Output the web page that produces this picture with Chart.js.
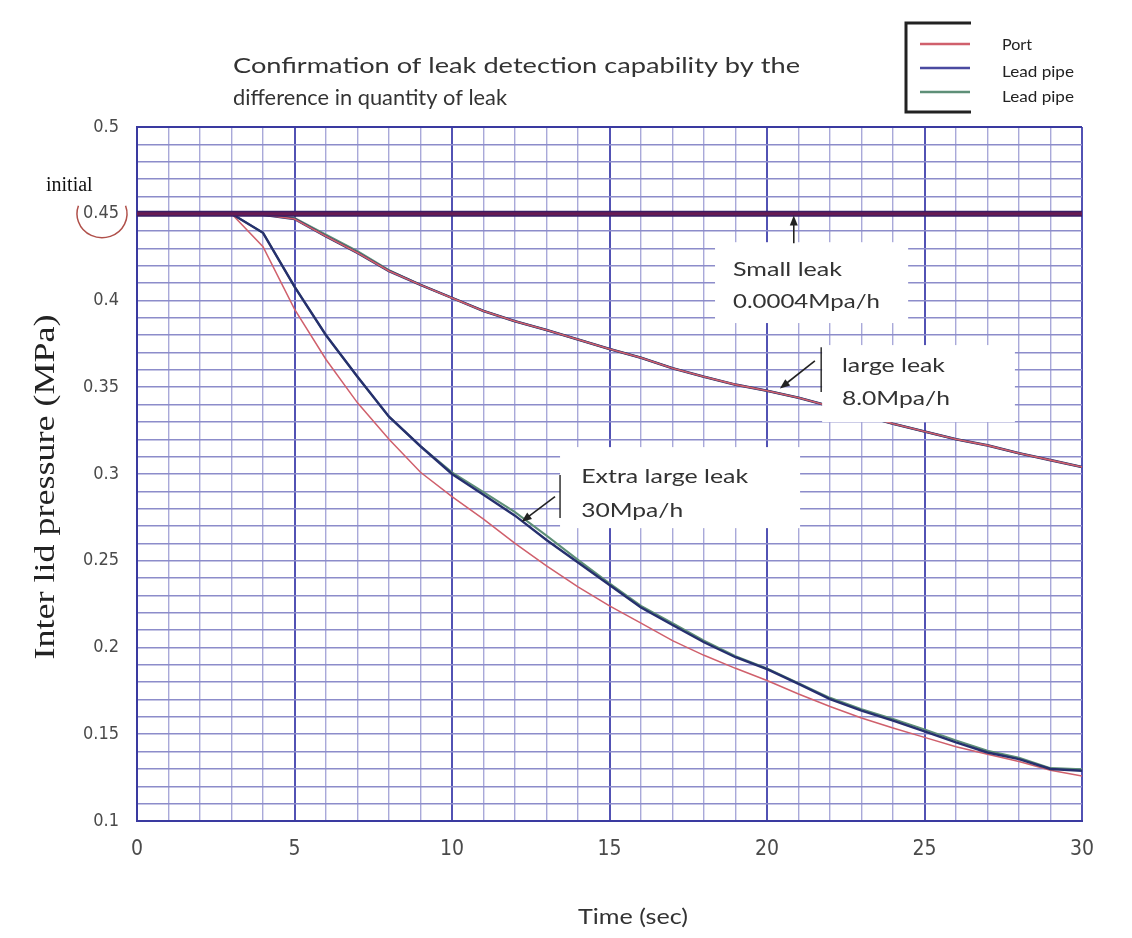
<!DOCTYPE html>
<html><head><meta charset="utf-8">
<script src="https://cdn.jsdelivr.net/npm/chart.js@4.4.0/dist/chart.umd.min.js"></script>
<style>html,body{margin:0;padding:0;background:#fff;}canvas{display:block;}</style>
</head><body>
<canvas id="c" width="1132" height="938"></canvas>
<script>
// ---------- data ----------
const seriesNames = ['Port', 'Lead pipe', 'Lead pipe'];
const timeSec = [0,1,2,3,4,5,6,7,8,9,10,11,12,13,14,15,16,17,18,19,20,21,22,23,24,25,26,27,28,29,30];
const xTickLabels = ['0','5','10','15','20','25','30'];
const yTickLabels = ['0.1','0.15','0.2','0.25','0.3','0.35','0.4','0.45','0.5'];

// small leak (0.0004 MPa/h)
const portSmall  = [0.45,0.45,0.45,0.45,0.45,0.45,0.45,0.45,0.45,0.45,0.45,0.45,0.45,0.45,0.45,0.45,0.45,0.45,0.45,0.45,0.45,0.45,0.45,0.45,0.45,0.45,0.45,0.45,0.45,0.45,0.45];
const leadASmall = [0.45,0.45,0.45,0.45,0.45,0.45,0.45,0.45,0.45,0.45,0.45,0.45,0.45,0.45,0.45,0.45,0.45,0.45,0.45,0.45,0.45,0.45,0.45,0.45,0.45,0.45,0.45,0.45,0.45,0.45,0.45];
const leadBSmall = [0.45,0.45,0.45,0.45,0.45,0.45,0.45,0.45,0.45,0.45,0.45,0.45,0.45,0.45,0.45,0.45,0.45,0.45,0.45,0.45,0.45,0.45,0.45,0.45,0.45,0.45,0.45,0.45,0.45,0.45,0.45];
// large leak (8.0 MPa/h)
const portLarge  = [0.45,0.45,0.45,0.45,0.4495,0.447,0.437,0.4275,0.417,0.409,0.4015,0.394,0.388,0.383,0.3775,0.372,0.367,0.361,0.356,0.3515,0.348,0.344,0.339,0.334,0.329,0.3245,0.320,0.3165,0.312,0.308,0.304];
const leadALarge = [0.45,0.45,0.45,0.45,0.4495,0.447,0.437,0.4275,0.417,0.409,0.4015,0.394,0.388,0.383,0.3775,0.372,0.367,0.361,0.356,0.3515,0.348,0.344,0.339,0.334,0.329,0.3245,0.320,0.3165,0.312,0.308,0.304];
const leadBLarge = [0.45,0.45,0.45,0.45,0.4497,0.4475,0.438,0.4285,0.4175,0.409,0.4015,0.394,0.388,0.383,0.3775,0.372,0.367,0.361,0.356,0.3515,0.348,0.344,0.339,0.334,0.329,0.3245,0.320,0.3165,0.312,0.308,0.304];
// extra large leak (30 MPa/h)
const portXL  = [0.45,0.45,0.45,0.45,0.431,0.395,0.366,0.341,0.320,0.301,0.287,0.274,0.260,0.247,0.235,0.224,0.214,0.204,0.1955,0.188,0.181,0.1732,0.166,0.1594,0.1536,0.1482,0.1428,0.1385,0.1343,0.1293,0.126];
const leadAXL = [0.45,0.45,0.45,0.45,0.439,0.408,0.380,0.356,0.333,0.316,0.300,0.288,0.276,0.262,0.249,0.236,0.223,0.213,0.203,0.1944,0.1875,0.179,0.1703,0.1636,0.1578,0.1516,0.1453,0.1395,0.1357,0.1300,0.129];
const leadBXL = [0.45,0.45,0.45,0.45,0.439,0.408,0.380,0.356,0.333,0.316,0.301,0.2895,0.278,0.2645,0.2505,0.237,0.224,0.214,0.204,0.195,0.188,0.1795,0.171,0.1645,0.1588,0.1528,0.1465,0.1405,0.1365,0.1305,0.1298];

// ---------- styles ----------
const RED = '#d0606c', BLUE = '#26306e', GREEN = '#5e8f77';
const pts = arr => arr.map((v, i) => ({x: timeSec[i], y: v}));
function ds(label, arr, color, width) {
  return {label, data: pts(arr), borderColor: color, borderWidth: width, pointRadius: 0,
          tension: 0, fill: false};
}
const datasets = [
  ds(seriesNames[0], portSmall, 'rgba(125,25,75,0.7)', 3),
  ds(seriesNames[1], leadASmall, '#3a1f66', 6),
  ds(seriesNames[2], leadBSmall, GREEN, 1),
  ds(seriesNames[0], portLarge, RED, 1.6),
  ds(seriesNames[1], leadALarge, BLUE, 2.6),
  ds(seriesNames[2], leadBLarge, GREEN, 2),
  ds(seriesNames[1], leadAXL, BLUE, 2.4),
  ds(seriesNames[0], portXL, RED, 1.5),
  ds(seriesNames[2], leadBXL, GREEN, 2)
];
const legendColors = [RED, '#4a4aa0', GREEN];

// annotations in data units
const notes = [
  {box:[18.35,24.48,0.4336,0.3870], tx:18.92, lines:[['Small leak',0.4140,109],['0.0004Mpa/h',0.3955,147]], arrow:[20.85,0.4330,20.85,0.4490], bar:null},
  {box:[21.75,27.87,0.3743,0.3299], tx:22.38, lines:[['large leak',0.3589,103],['8.0Mpa/h',0.3397,108]], arrow:[21.52,0.3652,20.41,0.3493], bar:[21.72,0.3731,0.3472]},
  {box:[13.43,21.05,0.3155,0.2688], tx:14.10, lines:[['Extra large leak',0.2946,167],['30Mpa/h',0.2753,102]], arrow:[13.27,0.2869,12.21,0.2725], bar:[13.43,0.2994,0.2746]}
];

const TXT = 'Lato, "Open Sans", sans-serif';
function fitText(ctx, text, x, y, font, color, width, align) {
  ctx.save();
  ctx.font = font; ctx.fillStyle = color; ctx.textBaseline = 'alphabetic'; ctx.textAlign = 'left';
  const w = ctx.measureText(text).width;
  const s = width ? width / w : 1;
  const tw = width || w;
  const x0 = align === 'center' ? x - tw / 2 : x;
  ctx.translate(x0, y); ctx.scale(s, 1); ctx.fillText(text, 0, 0);
  ctx.restore();
}
function arrow(ctx, x1, y1, x2, y2) {
  const a = Math.atan2(y2 - y1, x2 - x1), L = 10, W = 4;
  ctx.save();
  ctx.strokeStyle = '#222'; ctx.fillStyle = '#222'; ctx.lineWidth = 1.6;
  ctx.beginPath(); ctx.moveTo(x1, y1); ctx.lineTo(x2 - L * 0.6 * Math.cos(a), y2 - L * 0.6 * Math.sin(a)); ctx.stroke();
  ctx.beginPath(); ctx.moveTo(x2, y2);
  ctx.lineTo(x2 - L * Math.cos(a) + W * Math.sin(a), y2 - L * Math.sin(a) - W * Math.cos(a));
  ctx.lineTo(x2 - L * Math.cos(a) - W * Math.sin(a), y2 - L * Math.sin(a) + W * Math.cos(a));
  ctx.closePath(); ctx.fill();
  ctx.restore();
}

const decor = {
  id: 'decor',
  afterDatasetsDraw(chart) {
    const ctx = chart.ctx, xs = chart.scales.x, ys = chart.scales.y;
    const X = v => xs.getPixelForValue(v), Y = v => ys.getPixelForValue(v);
    notes.forEach(n => {
      const [x0, x1, y0, y1] = n.box;
      ctx.save(); ctx.fillStyle = '#ffffff';
      ctx.fillRect(X(x0), Y(y0), X(x1) - X(x0), Y(y1) - Y(y0));
      ctx.restore();
      n.lines.forEach(l => fitText(ctx, l[0], X(n.tx), Y(l[1]), '20px ' + TXT, '#333', l[2]));
      if (n.bar) {
        ctx.save(); ctx.strokeStyle = '#222'; ctx.lineWidth = 1.4;
        ctx.beginPath(); ctx.moveTo(X(n.bar[0]), Y(n.bar[1])); ctx.lineTo(X(n.bar[0]), Y(n.bar[2])); ctx.stroke();
        ctx.restore();
      }
      arrow(ctx, X(n.arrow[0]), Y(n.arrow[1]), X(n.arrow[2]), Y(n.arrow[3]));
    });
  },
  afterDraw(chart) {
    const ctx = chart.ctx, ys = chart.scales.y;
    // title
    fitText(ctx, 'Confirmation of leak detection capability by the', 233, 73, '22px ' + TXT, '#333', 567);
    fitText(ctx, 'difference in quantity of leak', 233, 105, '22px ' + TXT, '#333', 274);
    // legend
    ctx.save();
    ctx.strokeStyle = '#222'; ctx.lineWidth = 3;
    ctx.beginPath(); ctx.moveTo(971, 23); ctx.lineTo(906, 23); ctx.lineTo(906, 112); ctx.lineTo(971, 112); ctx.stroke();
    const ly = [44, 68, 92], lt = [50, 76.5, 102], lw = [30, 72, 72];
    seriesNames.forEach((name, i) => {
      ctx.strokeStyle = legendColors[i]; ctx.lineWidth = 2.6;
      ctx.beginPath(); ctx.moveTo(920, ly[i]); ctx.lineTo(970, ly[i]); ctx.stroke();
      fitText(ctx, name, 1002, lt[i], '15px ' + TXT, '#222', lw[i]);
    });
    ctx.restore();
    // axis titles
    ctx.save();
    ctx.translate(54, (chart.chartArea.top + chart.chartArea.bottom) / 2 + 13);
    ctx.rotate(-Math.PI / 2);
    fitText(ctx, 'Inter lid pressure (MPa)', 0, 0, '29px "Liberation Serif", "DejaVu Serif", serif', '#222', 345, 'center');
    ctx.restore();
    fitText(ctx, 'Time (sec)', 633, 924, '21px ' + TXT, '#333', 110, 'center');
    // "initial" marker and circled 0.45
    fitText(ctx, 'initial', 46, 191, '20px "Liberation Serif", "DejaVu Serif", serif', '#111', 0);
    ctx.save();
    ctx.strokeStyle = '#b0504a'; ctx.lineWidth = 1.5;
    ctx.beginPath(); ctx.ellipse(102, ys.getPixelForValue(0.45), 25, 24, 0, -0.34, Math.PI + 0.34); ctx.stroke();
    ctx.restore();
  }
};

const TICKFONT = '"Liberation Sans Narrow", "DejaVu Sans Condensed", "Arial Narrow", sans-serif';
new Chart(document.getElementById('c'), {
  type: 'line',
  data: {datasets},
  plugins: [decor],
  options: {
    responsive: false, animation: false, devicePixelRatio: 1,
    layout: {padding: {top: 127, right: 50, bottom: 0, left: 0}},
    plugins: {legend: {display: false}, tooltip: {enabled: false}, title: {display: false}},
    scales: {
      x: {
        type: 'linear', min: 0, max: 30,
        afterFit: s => { s.height = 117; },
        border: {color: '#3a3aa0', width: 2},
        grid: {
          drawTicks: false,
          color: c => (c.tick && c.tick.value % 5 === 0) ? '#5252b4' : '#a9a9d9',
          lineWidth: c => (c.tick && c.tick.value % 5 === 0) ? 2 : 1.4
        },
        ticks: {
          stepSize: 1, autoSkip: false, maxRotation: 0, padding: 16,
          color: '#4a4a4a', font: {family: TICKFONT, size: 21},
          callback: v => (v % 5 === 0) ? xTickLabels[v / 5] : ''
        }
      },
      y: {
        type: 'linear', min: 0.1, max: 0.5,
        afterFit: s => { s.width = 137; },
        border: {color: '#3a3aa0', width: 2},
        grid: {
          drawTicks: false,
          color: c => (c.tick && Math.round(c.tick.value * 100) === 50) ? '#3a3aa0' : '#8c8cca',
          lineWidth: c => (c.tick && Math.round(c.tick.value * 100) === 50) ? 2 : 1.6
        },
        ticks: {
          stepSize: 0.01, maxTicksLimit: 100, autoSkip: false, padding: 18,
          color: '#4a4a4a', font: {family: TICKFONT, size: 18},
          callback: v => { const k = Math.round(v * 100); return k % 5 === 0 ? yTickLabels[(k - 10) / 5] : ''; }
        }
      }
    }
  }
});
</script>
</body></html>
